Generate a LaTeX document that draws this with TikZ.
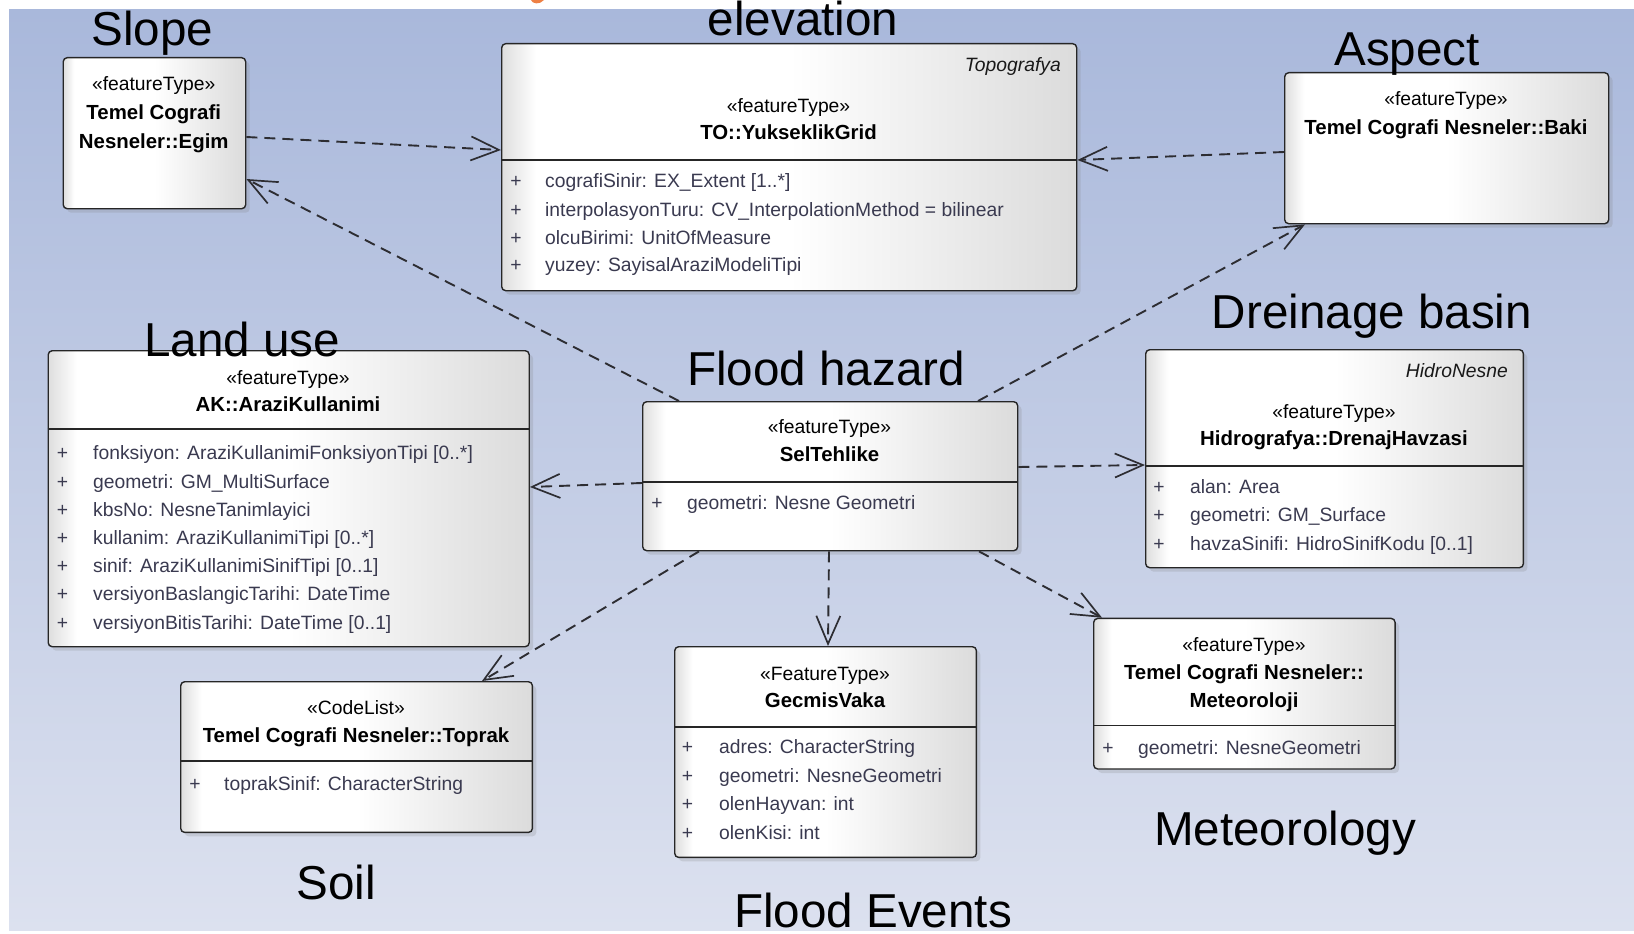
\documentclass[tikz,border=0pt]{standalone}
\usepackage{fontspec}
\setmainfont{Liberation Sans}
\usetikzlibrary{arrows.meta,calc,shadows}

\definecolor{bgtop}{RGB}{169,184,219}
\definecolor{bgbot}{RGB}{220,225,239}
\definecolor{attrcol}{RGB}{58,58,80}
\definecolor{linkcol}{RGB}{45,45,50}
\definecolor{titleorange}{RGB}{238,128,68}

% class box fill: grey rim on the left, white body, fading to grey on the right
\pgfdeclarehorizontalshading{umlfill}{100bp}{color(0bp)=(black!13); color(25bp)=(black!13); color(28bp)=(white); color(50bp)=(white); color(75bp)=(black!14); color(100bp)=(black!14)}

\newcommand\txtsize{\fontsize{19.3}{23}\selectfont}

\tikzset{
  umlbox/.style={draw=black!85, line width=1.4pt, rounded corners=4pt,
    shade, shading=umlfill, anchor=north west, inner sep=0pt,
    drop shadow={opacity=0.22, shadow xshift=4pt, shadow yshift=-4pt}},
  stereo/.style={font=\txtsize, text=black, anchor=base, inner sep=0pt},
  ttl/.style={font=\fontsize{20.4}{23}\selectfont\bfseries, text=black, anchor=base, inner sep=0pt},
  pkg/.style={font=\txtsize\itshape, text=black!90, anchor=base east, inner sep=0pt},
  plus/.style={font=\txtsize, text=attrcol, anchor=base, inner sep=0pt},
  attr/.style={font=\txtsize, text=attrcol, anchor=base west, inner sep=0pt},
  biglbl/.style={font=\fontsize{47.6}{57}\selectfont, text=black, anchor=base, inner sep=0pt},
  sepline/.style={draw=black!85, line width=1.4pt},
  dep/.style={draw=linkcol, line width=1.9pt, dash pattern=on 11pt off 7pt,
    -{Straight Barb[length=28pt, width=24pt, line width=1.7pt]}},
}

\begin{document}
\begin{tikzpicture}[x=1pt, y=-1pt]
\useasboundingbox (0,0) rectangle (1634,934);
% page and slide background
\fill[white] (0,0) rectangle (1634,934);
\shade[top color=bgtop, bottom color=bgbot] (9,10) rectangle (1634,930);
\fill[titleorange] (531,0) .. controls (532,4) and (540,5) .. (544,0) -- cycle;

% ---------- class boxes ----------
\node[umlbox, minimum width=182.5pt, minimum height=151pt] (egim) at (62.5,57) {};
\node[umlbox, minimum width=575pt, minimum height=247pt] (grid) at (501,43) {};
\node[umlbox, minimum width=324pt, minimum height=151pt] (baki) at (1284,72) {};
\node[umlbox, minimum width=481pt, minimum height=296pt] (arazi) at (47.5,350) {};
\node[umlbox, minimum width=375pt, minimum height=149pt] (selt) at (642,401) {};
\node[umlbox, minimum width=377.7pt, minimum height=218pt] (drenaj) at (1145,349) {};
\node[umlbox, minimum width=351.7pt, minimum height=150.7pt] (toprak) at (180,681) {};
\node[umlbox, minimum width=301.7pt, minimum height=210.7pt] (gecmis) at (674,646) {};
\node[umlbox, minimum width=301.4pt, minimum height=150.6pt] (meteo) at (1093,617.7) {};

% compartment separators
\draw[sepline] ($(grid.north west)+(0,117)$) -- ($(grid.north east)+(0,117)$);
\draw[sepline] ($(arazi.north west)+(0,79)$) -- ($(arazi.north east)+(0,79)$);
\draw[sepline] ($(selt.north west)+(0,81)$) -- ($(selt.north east)+(0,81)$);
\draw[sepline] ($(drenaj.north west)+(0,117)$) -- ($(drenaj.north east)+(0,117)$);
\draw[sepline] ($(toprak.north west)+(0,80)$) -- ($(toprak.north east)+(0,80)$);
\draw[sepline] ($(gecmis.north west)+(0,81)$) -- ($(gecmis.north east)+(0,81)$);
\draw[sepline] ($(meteo.north west)+(0,108)$) -- ($(meteo.north east)+(0,108)$);

% ---------- dependencies ----------
\draw[dep] ($(egim.north east)+(0,80)$) -- ($(grid.north west)+(0,107)$);
\draw[dep] ($(baki.north west)+(0,80)$) -- ($(grid.north east)+(0,117)$);
\draw[dep] ($(selt.north west)+(37,0)$) -- ($(egim.north east)+(0,122)$);
\draw[dep] ($(selt.north west)+(336,0)$) -- ($(baki.south west)+(21,0)$);
\draw[dep] ($(selt.north west)+(0,82)$) -- ($(arazi.north east)+(0,137)$);
\draw[dep] ($(selt.north east)+(0,66)$) -- ($(drenaj.north west)+(0,116)$);
\draw[dep] ($(selt.south west)+(57,0)$) -- ($(toprak.north west)+(302,0)$);
\draw[dep] ($(selt.south west)+(187,0)$) -- ($(gecmis.north west)+(154,0)$);
\draw[dep] ($(selt.south west)+(337,0)$) -- ($(meteo.north west)+(9,0)$);

% ---------- box texts ----------
% Egim
\node[stereo] (egim-st) at (153.75,90.5) {«featureType»};
\node[ttl] (egim-t1) at (153.75,119) {Temel Cografi};
\node[ttl] (egim-t2) at (153.75,148) {Nesneler::Egim};

% YukseklikGrid
\node[pkg] (grid-pk) at (1061,71.5) {Topografya};
\node[stereo] (grid-st) at (788.5,112) {«featureType»};
\node[ttl] (grid-t) at (788.5,139.5) {TO::YukseklikGrid};
\node[plus] (grid-p1) at (516,187.5) {+};
\node[attr] (grid-a1) at (545,187.5) {cografiSinir: EX\_Extent [1..*]};
\node[plus] (grid-p2) at (516,216) {+};
\node[attr] (grid-a2) at (545,216) {interpolasyonTuru: CV\_InterpolationMethod = bilinear};
\node[plus] (grid-p3) at (516,244.5) {+};
\node[attr] (grid-a3) at (545,244.5) {olcuBirimi: UnitOfMeasure};
\node[plus] (grid-p4) at (516,271.5) {+};
\node[attr] (grid-a4) at (545,271.5) {yuzey: SayisalAraziModeliTipi};

% Baki
\node[stereo] (baki-st) at (1446,106) {«featureType»};
\node[ttl] (baki-t) at (1446,134.5) {Temel Cografi Nesneler::Baki};

% AraziKullanimi
\node[stereo] (arazi-st) at (288,384) {«featureType»};
\node[ttl] (arazi-t) at (288,411.5) {AK::AraziKullanimi};
\node[plus] (arazi-p1) at (62.5,459.5) {+};
\node[attr] (arazi-a1) at (93,459.5) {fonksiyon: AraziKullanimiFonksiyonTipi [0..*]};
\node[plus] (arazi-p2) at (62.5,488) {+};
\node[attr] (arazi-a2) at (93,488) {geometri: GM\_MultiSurface};
\node[plus] (arazi-p3) at (62.5,516) {+};
\node[attr] (arazi-a3) at (93,516) {kbsNo: NesneTanimlayici};
\node[plus] (arazi-p4) at (62.5,544) {+};
\node[attr] (arazi-a4) at (93,544) {kullanim: AraziKullanimiTipi [0..*]};
\node[plus] (arazi-p5) at (62.5,572) {+};
\node[attr] (arazi-a5) at (93,572) {sinif: AraziKullanimiSinifTipi [0..1]};
\node[plus] (arazi-p6) at (62.5,600.5) {+};
\node[attr] (arazi-a6) at (93,600.5) {versiyonBaslangicTarihi: DateTime};
\node[plus] (arazi-p7) at (62.5,629) {+};
\node[attr] (arazi-a7) at (93,629) {versiyonBitisTarihi: DateTime [0..1]};

% SelTehlike
\node[stereo] (selt-st) at (829.5,433) {«featureType»};
\node[ttl] (selt-t) at (829.5,461) {SelTehlike};
\node[plus] (selt-p1) at (657,509) {+};
\node[attr] (selt-a1) at (687,509) {geometri: Nesne Geometri};

% DrenajHavzasi
\node[pkg] (drenaj-pk) at (1508,377) {HidroNesne};
\node[stereo] (drenaj-st) at (1334,418) {«featureType»};
\node[ttl] (drenaj-t) at (1334,445.5) {Hidrografya::DrenajHavzasi};
\node[plus] (drenaj-p1) at (1159,493.5) {+};
\node[attr] (drenaj-a1) at (1190,493.5) {alan: Area};
\node[plus] (drenaj-p2) at (1159,521.5) {+};
\node[attr] (drenaj-a2) at (1190,521.5) {geometri: GM\_Surface};
\node[plus] (drenaj-p3) at (1159,550) {+};
\node[attr] (drenaj-a3) at (1190,550) {havzaSinifi: HidroSinifKodu [0..1]};

% Toprak
\node[stereo] (toprak-st) at (356,714) {«CodeList»};
\node[ttl] (toprak-t) at (356,742) {Temel Cografi Nesneler::Toprak};
\node[plus] (toprak-p1) at (195,790) {+};
\node[attr] (toprak-a1) at (224,790) {toprakSinif: CharacterString};

% GecmisVaka
\node[stereo] (gecmis-st) at (825,680) {«FeatureType»};
\node[ttl] (gecmis-t) at (825,707.5) {GecmisVaka};
\node[plus] (gecmis-p1) at (687.5,753.5) {+};
\node[attr] (gecmis-a1) at (719,753.5) {adres: CharacterString};
\node[plus] (gecmis-p2) at (687.5,782) {+};
\node[attr] (gecmis-a2) at (719,782) {geometri: NesneGeometri};
\node[plus] (gecmis-p3) at (687.5,810.5) {+};
\node[attr] (gecmis-a3) at (719,810.5) {olenHayvan: int};
\node[plus] (gecmis-p4) at (687.5,839) {+};
\node[attr] (gecmis-a4) at (719,839) {olenKisi: int};

% Meteoroloji
\node[stereo] (meteo-st) at (1244,651.5) {«featureType»};
\node[ttl] (meteo-t1) at (1244,679.5) {Temel Cografi Nesneler::};
\node[ttl] (meteo-t2) at (1244,707.5) {Meteoroloji};
\node[plus] (meteo-p1) at (1108,754) {+};
\node[attr] (meteo-a1) at (1138,754) {geometri: NesneGeometri};

% ---------- English captions ----------
\node[biglbl] (lbl-slope) at (152.5,46) {Slope};
\node[biglbl] (lbl-elev) at (803,36) {elevation};
\node[biglbl] (lbl-aspect) at (1407,66) {Aspect};
\node[biglbl] (lbl-basin) at (1372,328) {Dreinage basin};
\node[biglbl] (lbl-land) at (242,356) {Land use};
\node[biglbl] (lbl-hazard) at (826,385.5) {Flood hazard};
\node[biglbl] (lbl-soil) at (336,899) {Soil};
\node[biglbl] (lbl-events) at (873,927) {Flood Events};
\node[biglbl] (lbl-meteo) at (1285,845) {Meteorology};
\end{tikzpicture}
\end{document}
